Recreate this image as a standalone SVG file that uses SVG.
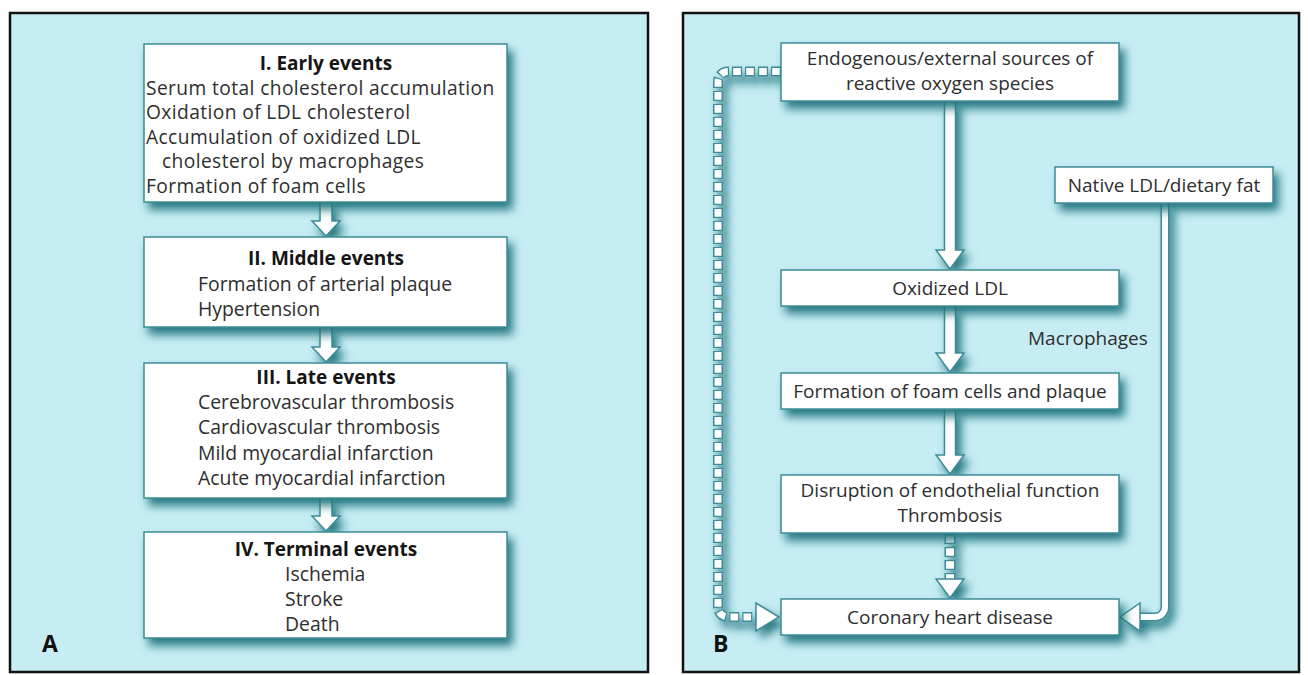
<svg xmlns="http://www.w3.org/2000/svg" width="1308" height="675" viewBox="0 0 1308 675">
<defs>
<filter id="sh" x="-20%" y="-30%" width="150%" height="180%">
<feDropShadow dx="5" dy="7" stdDeviation="5" flood-color="#1f727d" flood-opacity="0.95"/>
</filter>
<style>
.panel{fill:#c7edf4;stroke:#111;stroke-width:2.5}
.box{fill:#fff;stroke:#3c8c97;stroke-width:1.5}
.t{font-family:"Open Sans","Liberation Sans",sans-serif;font-size:19px;fill:#2e2e2e}
.a1{font-size:19.2px;letter-spacing:0.4px}
.a2{font-size:19.4px}
.c{text-anchor:middle}
.b{font-weight:bold;fill:#151515;font-size:19px}
.lbl{font-family:"Open Sans","Liberation Sans",sans-serif;font-size:23px;font-weight:bold;fill:#111}
.arr{fill:#fff;stroke:#3c8c97;stroke-width:1.5;stroke-linejoin:miter}
.lo{fill:none;stroke:#3c8c97;stroke-width:9}
.li{fill:none;stroke:#fff;stroke-width:6}
.dlo{fill:none;stroke:#3c8c97;stroke-width:10;stroke-dasharray:10 3}
.dli{fill:none;stroke:#fff;stroke-width:7;stroke-dasharray:7.6 5.4;stroke-dashoffset:-1.2}
</style>
</defs>
<rect class="panel" x="10" y="13" width="638" height="659"/>
<rect class="panel" x="683" y="13" width="616" height="659"/>
<g id="connectors" filter="url(#sh)">
<polygon class="arr" points="320,202 332,202 332,221 340,221 326,236 312,221 320,221"/>
<polygon class="arr" points="320,327 332,327 332,347 340,347 326,362 312,347 320,347"/>
<polygon class="arr" points="320,498 332,498 332,516 340,516 326,531 312,516 320,516"/>
<polygon class="arr" points="944.5,101 955.5,101 955.5,250 964,250 950,269 936,250 944.5,250"/>
<polygon class="arr" points="944.5,306 955.5,306 955.5,353 964,353 950,372 936,353 944.5,353"/>
<polygon class="arr" points="944.5,409 955.5,409 955.5,455 964,455 950,474 936,455 944.5,455"/>
<path class="dlo" d="M950 534 V579" style="stroke-width:11"/>
<path class="dli" d="M950 534 V579" style="stroke-width:8"/>
<polygon class="arr" points="936,579 964,579 950,598"/>
<path class="dlo" d="M781 71.5 H728 A10 10 0 0 0 718 81.5 V607 A10 10 0 0 0 728 617 H756"/>
<path class="dli" d="M781 71.5 H728 A10 10 0 0 0 718 81.5 V607 A10 10 0 0 0 728 617 H756"/>
<polygon class="arr" points="756,603 779,617 756,631"/>
<path class="lo" d="M1165 203 V607 A10 10 0 0 1 1155 617 H1140"/>
<path class="li" d="M1165 203 V607 A10 10 0 0 1 1155 617 H1139"/>
<polygon class="arr" points="1140,603 1120,617 1140,631"/>
</g>
<g id="early">
<rect class="box" x="144" y="44" width="363" height="158" filter="url(#sh)"/>
<text class="t b c" x="326" y="70">I. Early events</text>
<text class="t a1" x="146" y="94.5">Serum total cholesterol accumulation</text>
<text class="t a1" x="146" y="119">Oxidation of LDL cholesterol</text>
<text class="t a1" x="146" y="143.5">Accumulation of oxidized LDL</text>
<text class="t a1" x="162" y="168">cholesterol by macrophages</text>
<text class="t a1" x="146" y="192.5">Formation of foam cells</text>
</g>
<g id="middle">
<rect class="box" x="144" y="237" width="363" height="90" filter="url(#sh)"/>
<text class="t b c" x="326" y="265">II. Middle events</text>
<text class="t a2" x="198" y="291">Formation of arterial plaque</text>
<text class="t a2" x="198" y="316">Hypertension</text>
</g>
<g id="late">
<rect class="box" x="144" y="363" width="363" height="135" filter="url(#sh)"/>
<text class="t b c" x="326" y="384">III. Late events</text>
<text class="t a2" x="198" y="409">Cerebrovascular thrombosis</text>
<text class="t a2" x="198" y="434">Cardiovascular thrombosis</text>
<text class="t a2" x="198" y="460">Mild myocardial infarction</text>
<text class="t a2" x="198" y="485">Acute myocardial infarction</text>
</g>
<g id="terminal">
<rect class="box" x="144" y="532" width="363" height="106" filter="url(#sh)"/>
<text class="t b c" x="326" y="556">IV. Terminal events</text>
<text class="t a2" x="285" y="581">Ischemia</text>
<text class="t a2" x="285" y="606">Stroke</text>
<text class="t a2" x="285" y="631">Death</text>
</g>
<text class="lbl" x="42" y="652">A</text>
<g id="sources">
<rect class="box" x="781" y="43" width="338" height="58" filter="url(#sh)"/>
<text class="t c" x="950" y="65">Endogenous/external sources of</text>
<text class="t c" x="950" y="90">reactive oxygen species</text>
</g>
<g id="native">
<rect class="box" x="1055" y="167" width="218" height="36" filter="url(#sh)"/>
<text class="t c" x="1164" y="192">Native LDL/dietary fat</text>
</g>
<g id="oxidized">
<rect class="box" x="781" y="270" width="338" height="36" filter="url(#sh)"/>
<text class="t c" x="950" y="295">Oxidized LDL</text>
</g>
<text class="t" x="1028" y="345">Macrophages</text>
<g id="foam">
<rect class="box" x="781" y="373" width="338" height="36" filter="url(#sh)"/>
<text class="t c" x="950" y="398">Formation of foam cells and plaque</text>
</g>
<g id="disruption">
<rect class="box" x="781" y="475" width="338" height="58" filter="url(#sh)"/>
<text class="t c" x="950" y="497">Disruption of endothelial function</text>
<text class="t c" x="950" y="522">Thrombosis</text>
</g>
<g id="chd">
<rect class="box" x="781" y="599" width="338" height="36" filter="url(#sh)"/>
<text class="t c" x="950" y="624">Coronary heart disease</text>
</g>
<text class="lbl" x="713" y="652">B</text>
</svg>
